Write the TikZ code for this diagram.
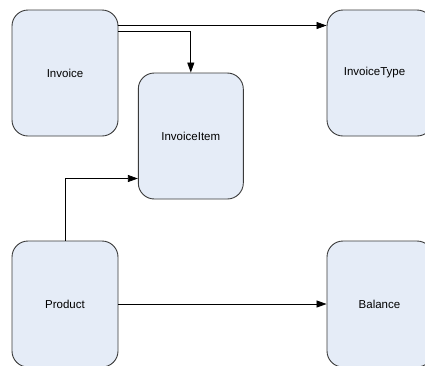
\documentclass[tikz,border=0pt]{standalone}
\usepackage{fontspec}
\setmainfont{Liberation Sans}
\usetikzlibrary{arrows.meta}
\definecolor{boxfill}{HTML}{E5ECF7}
\definecolor{edgegray}{HTML}{3A3A3A}
\begin{document}
\begin{tikzpicture}[x=1pt,y=-1pt,
  entity/.style={draw=edgegray, line width=0.9pt, fill=boxfill,
    rounded corners=16pt, minimum width=106pt, minimum height=126pt,
    inner sep=0pt},
  caption/.style={font=\fontsize{11.5}{13}\selectfont, inner sep=0pt},
  link/.style={draw=black, line width=0.8pt,
    -{Triangle[length=10pt,width=7pt]}}]
  \clip (0,0) rectangle (425,365);
  \fill[white] (0,0) rectangle (425,365);

  % entities
  \node[entity] (invoice) at (65,73) {};
  \node[caption] (invoiceLbl) at (65,73) {Invoice};
  \node[entity, minimum width=105pt] (item) at (190.8,136) {};
  \node[caption] (itemLbl) at (190.8,136) {InvoiceItem};
  \node[entity] (type) at (380,73) {};
  \node[caption] (typeLbl) at (374.5,73) {InvoiceType};
  \node[entity] (product) at (65,304) {};
  \node[caption] (productLbl) at (65,304) {Product};
  \node[entity] (balance) at (380,304) {};
  \node[caption] (balanceLbl) at (379.5,304) {Balance};

  % routing heights
  \coordinate (rowA) at (0,25.5);
  \coordinate (rowB) at (0,31.5);
  \coordinate (rowC) at (0,178.5);
  \coordinate (colB) at (190.8,0);

  % relations
  \draw[link] (invoice.east |- rowA) -- (type.west |- rowA);
  \draw[link] (invoice.east |- rowB) -| (item.north -| colB);
  \draw[link] (product.north) |- (item.west |- rowC);
  \draw[link] (product.east) -- (balance.west);
\end{tikzpicture}
\end{document}
